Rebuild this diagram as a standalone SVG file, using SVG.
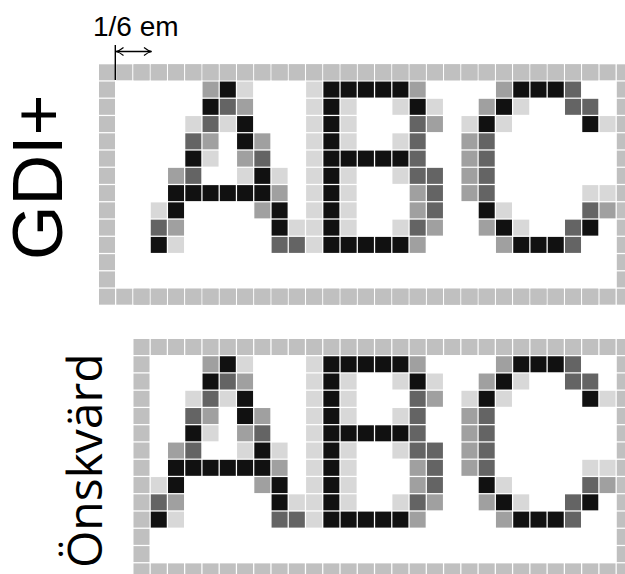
<svg xmlns="http://www.w3.org/2000/svg" xmlns:xlink="http://www.w3.org/1999/xlink" width="625" height="574" viewBox="0 0 625 574">
<style>
.b{fill:#c0c0c0}.l{fill:#d8d8d8}.m{fill:#a0a0a0}.d{fill:#646464}.k{fill:#111111}
.lbl{font-family:"Liberation Sans",Arial,sans-serif;fill:#000}
</style>
<defs>
<rect id="c" width="0.927" height="0.927"/>
<marker id="ah" viewBox="0 0 10 10" refX="9.5" refY="5" markerWidth="10" markerHeight="10" markerUnits="userSpaceOnUse" orient="auto-start-reverse">
<path d="M2,1 Q6,4.3 9.5,5 Q6,5.7 2,9" fill="none" stroke="#000" stroke-width="1.2"/>
</marker>
<g id="glyphs">
<!-- A -->
<use href="#c" x="6" y="1" class="m"/><use href="#c" x="7" y="1" class="k"/><use href="#c" x="8" y="1" class="l"/>
<use href="#c" x="6" y="2" class="k"/><use href="#c" x="7" y="2" class="d"/><use href="#c" x="8" y="2" class="m"/>
<use href="#c" x="5" y="3" class="l"/><use href="#c" x="6" y="3" class="d"/><use href="#c" x="7" y="3" class="l"/><use href="#c" x="8" y="3" class="k"/>
<use href="#c" x="5" y="4" class="d"/><use href="#c" x="6" y="4" class="m"/><use href="#c" x="8" y="4" class="k"/><use href="#c" x="9" y="4" class="m"/>
<use href="#c" x="5" y="5" class="k"/><use href="#c" x="6" y="5" class="l"/><use href="#c" x="8" y="5" class="m"/><use href="#c" x="9" y="5" class="d"/>
<use href="#c" x="4" y="6" class="m"/><use href="#c" x="5" y="6" class="d"/><use href="#c" x="8" y="6" class="l"/><use href="#c" x="9" y="6" class="k"/><use href="#c" x="10" y="6" class="l"/>
<use href="#c" x="4" y="7" class="k"/><use href="#c" x="5" y="7" class="k"/><use href="#c" x="6" y="7" class="k"/><use href="#c" x="7" y="7" class="k"/><use href="#c" x="8" y="7" class="k"/><use href="#c" x="9" y="7" class="k"/><use href="#c" x="10" y="7" class="m"/>
<use href="#c" x="3" y="8" class="l"/><use href="#c" x="4" y="8" class="k"/><use href="#c" x="9" y="8" class="m"/><use href="#c" x="10" y="8" class="k"/>
<use href="#c" x="3" y="9" class="d"/><use href="#c" x="4" y="9" class="m"/><use href="#c" x="10" y="9" class="k"/><use href="#c" x="11" y="9" class="l"/>
<use href="#c" x="3" y="10" class="k"/><use href="#c" x="4" y="10" class="l"/><use href="#c" x="10" y="10" class="d"/><use href="#c" x="11" y="10" class="d"/>
<!-- B -->
<use href="#c" x="12" y="1" class="l"/><use href="#c" x="12" y="2" class="l"/><use href="#c" x="12" y="3" class="l"/><use href="#c" x="12" y="4" class="l"/><use href="#c" x="12" y="5" class="l"/><use href="#c" x="12" y="6" class="l"/><use href="#c" x="12" y="7" class="l"/><use href="#c" x="12" y="8" class="l"/><use href="#c" x="12" y="9" class="l"/><use href="#c" x="12" y="10" class="l"/>
<use href="#c" x="13" y="1" class="k"/><use href="#c" x="13" y="2" class="k"/><use href="#c" x="13" y="3" class="k"/><use href="#c" x="13" y="4" class="k"/><use href="#c" x="13" y="5" class="k"/><use href="#c" x="13" y="6" class="k"/><use href="#c" x="13" y="7" class="k"/><use href="#c" x="13" y="8" class="k"/><use href="#c" x="13" y="9" class="k"/><use href="#c" x="13" y="10" class="k"/>
<use href="#c" x="14" y="1" class="k"/><use href="#c" x="14" y="2" class="l"/><use href="#c" x="14" y="3" class="l"/><use href="#c" x="14" y="4" class="l"/><use href="#c" x="14" y="5" class="k"/><use href="#c" x="14" y="6" class="l"/><use href="#c" x="14" y="7" class="l"/><use href="#c" x="14" y="8" class="l"/><use href="#c" x="14" y="9" class="l"/><use href="#c" x="14" y="10" class="k"/>
<use href="#c" x="15" y="1" class="k"/><use href="#c" x="15" y="5" class="k"/><use href="#c" x="15" y="10" class="k"/>
<use href="#c" x="16" y="1" class="k"/><use href="#c" x="16" y="5" class="k"/><use href="#c" x="16" y="10" class="k"/>
<use href="#c" x="17" y="1" class="k"/><use href="#c" x="17" y="2" class="l"/><use href="#c" x="17" y="4" class="l"/><use href="#c" x="17" y="5" class="k"/><use href="#c" x="17" y="6" class="l"/><use href="#c" x="17" y="9" class="l"/><use href="#c" x="17" y="10" class="k"/>
<use href="#c" x="18" y="1" class="m"/><use href="#c" x="18" y="2" class="k"/><use href="#c" x="18" y="3" class="d"/><use href="#c" x="18" y="4" class="d"/><use href="#c" x="18" y="5" class="d"/><use href="#c" x="18" y="6" class="d"/><use href="#c" x="18" y="7" class="m"/><use href="#c" x="18" y="8" class="m"/><use href="#c" x="18" y="9" class="d"/><use href="#c" x="18" y="10" class="m"/>
<use href="#c" x="19" y="2" class="l"/><use href="#c" x="19" y="3" class="m"/><use href="#c" x="19" y="6" class="d"/><use href="#c" x="19" y="7" class="d"/><use href="#c" x="19" y="8" class="d"/><use href="#c" x="19" y="9" class="m"/>
<!-- C -->
<use href="#c" x="23" y="1" class="m"/><use href="#c" x="24" y="1" class="k"/><use href="#c" x="25" y="1" class="k"/><use href="#c" x="26" y="1" class="k"/><use href="#c" x="27" y="1" class="d"/>
<use href="#c" x="22" y="2" class="m"/><use href="#c" x="23" y="2" class="k"/><use href="#c" x="24" y="2" class="l"/><use href="#c" x="27" y="2" class="d"/><use href="#c" x="28" y="2" class="d"/>
<use href="#c" x="21" y="3" class="l"/><use href="#c" x="22" y="3" class="k"/><use href="#c" x="23" y="3" class="l"/><use href="#c" x="28" y="3" class="k"/><use href="#c" x="29" y="3" class="l"/>
<use href="#c" x="21" y="4" class="m"/><use href="#c" x="22" y="4" class="d"/>
<use href="#c" x="21" y="5" class="m"/><use href="#c" x="22" y="5" class="d"/>
<use href="#c" x="21" y="6" class="m"/><use href="#c" x="22" y="6" class="d"/>
<use href="#c" x="21" y="7" class="m"/><use href="#c" x="22" y="7" class="d"/><use href="#c" x="28" y="7" class="l"/><use href="#c" x="29" y="7" class="l"/>
<use href="#c" x="22" y="8" class="k"/><use href="#c" x="23" y="8" class="l"/><use href="#c" x="28" y="8" class="d"/><use href="#c" x="29" y="8" class="m"/>
<use href="#c" x="22" y="9" class="m"/><use href="#c" x="23" y="9" class="k"/><use href="#c" x="24" y="9" class="l"/><use href="#c" x="27" y="9" class="d"/><use href="#c" x="28" y="9" class="k"/>
<use href="#c" x="23" y="10" class="m"/><use href="#c" x="24" y="10" class="k"/><use href="#c" x="25" y="10" class="k"/><use href="#c" x="26" y="10" class="k"/><use href="#c" x="27" y="10" class="d"/>
</g>
<g id="hrow" class="b">
<use href="#c" x="0"/><use href="#c" x="1"/><use href="#c" x="2"/><use href="#c" x="3"/><use href="#c" x="4"/><use href="#c" x="5"/><use href="#c" x="6"/><use href="#c" x="7"/><use href="#c" x="8"/><use href="#c" x="9"/><use href="#c" x="10"/><use href="#c" x="11"/><use href="#c" x="12"/><use href="#c" x="13"/><use href="#c" x="14"/><use href="#c" x="15"/><use href="#c" x="16"/><use href="#c" x="17"/><use href="#c" x="18"/><use href="#c" x="19"/><use href="#c" x="20"/><use href="#c" x="21"/><use href="#c" x="22"/><use href="#c" x="23"/><use href="#c" x="24"/><use href="#c" x="25"/><use href="#c" x="26"/><use href="#c" x="27"/><use href="#c" x="28"/>
</g>
<g id="vcol" class="b">
<use href="#c" y="1"/><use href="#c" y="2"/><use href="#c" y="3"/><use href="#c" y="4"/><use href="#c" y="5"/><use href="#c" y="6"/><use href="#c" y="7"/><use href="#c" y="8"/><use href="#c" y="9"/><use href="#c" y="10"/><use href="#c" y="11"/><use href="#c" y="12"/>
</g>
</defs>
<rect width="625" height="574" fill="#fff"/>

<g id="gdi">
<g transform="translate(99,64.3) scale(17.26)">
<use href="#hrow"/><use href="#hrow" x="2"/>
<use href="#hrow" y="13"/><use href="#hrow" x="2" y="13"/>
<use href="#vcol"/><use href="#vcol" x="30"/>
<use href="#glyphs"/>
</g>
<text class="lbl" font-size="70" transform="translate(62,260) rotate(-90)">GDI+</text>
</g>

<g id="desired">
<g transform="translate(133.5,339) scale(17.26)">
<use href="#hrow"/>
<use href="#hrow" y="13"/>
<use href="#vcol"/><use href="#vcol" x="28"/>
<use href="#glyphs" x="-2"/>
</g>
<text font-family="'Open Sans','Noto Sans',sans-serif" font-size="48" fill="#000" transform="translate(101.5,568) rotate(-90)">Önskvärd</text>
</g>

<g id="measure">
<text class="lbl" x="93" y="36" font-size="28">1/6 em</text>
<line x1="115.3" y1="45" x2="115.3" y2="80" stroke="#000" stroke-width="1.4"/>
<line x1="116" y1="51.5" x2="151.5" y2="51.5" stroke="#000" stroke-width="1.3" marker-start="url(#ah)" marker-end="url(#ah)"/>
</g>
</svg>
